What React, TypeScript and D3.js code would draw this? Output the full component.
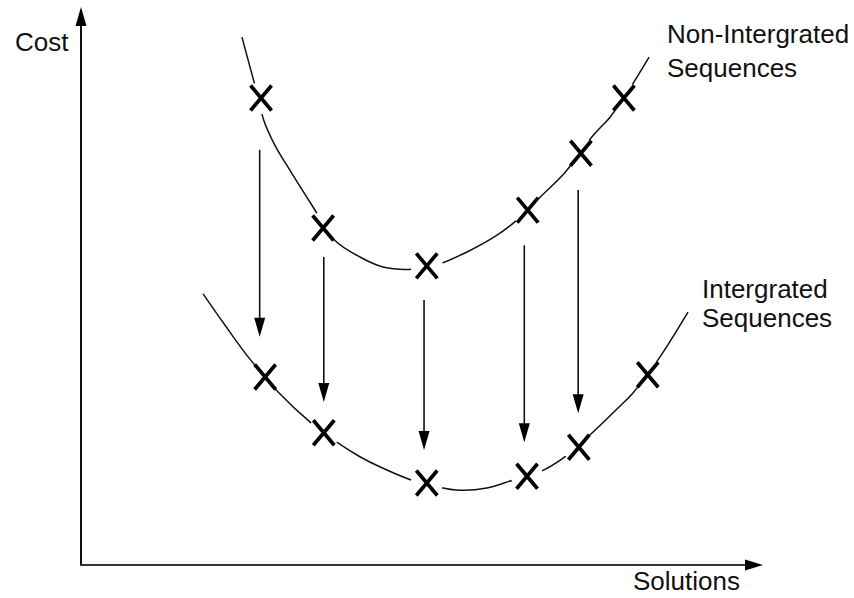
import React from "react";
import * as d3 from "d3";

// ---- data (x: solutions 0-100, y: cost 0-100) ----
const upperCurveX = [23.6, 25.1, 26.1, 26.8, 28.4, 30.6, 34.0, 37.2, 40.9, 44.3, 48.5, 52.2, 56.6, 61.0, 63.9, 67.3, 71.0, 74.9, 77.6, 79.6, 83.3];
const upperCurveY = [94.6, 87.8, 83.3, 79.7, 75.3, 70.8, 64.2, 58.2, 55.2, 53.4, 53.0, 53.8, 56.1, 59.1, 61.8, 65.9, 70.4, 76.7, 80.3, 83.7, 91.0];

const lowerCurveX = [17.9, 21.1, 24.5, 27.0, 28.9, 33.6, 37.5, 40.9, 43.8, 48.5, 52.2, 55.6, 59.5, 63.3, 67.3, 71.3, 75.4, 78.7, 80.9, 84.9, 89.0];
const lowerCurveY = [48.6, 43.0, 37.3, 33.7, 31.0, 25.6, 22.0, 19.4, 17.6, 15.2, 14.0, 13.4, 13.8, 15.2, 16.7, 19.7, 24.2, 28.1, 30.8, 37.3, 45.3];

const upperMarkX = [26.4, 35.5, 50.7, 65.5, 73.3, 79.6];
const upperMarkY = [83.7, 60.4, 53.6, 63.6, 73.8, 83.7];

const lowerMarkX = [27.0, 35.6, 50.7, 65.4, 73.0, 83.1];
const lowerMarkY = [33.7, 23.7, 14.7, 15.9, 21.1, 34.1];

const arrowX = [26.2, 35.6, 50.3, 65.0, 72.9];
const arrowFrom = [74.4, 55.2, 47.5, 57.3, 67.2];
const arrowTo = [40.9, 29.2, 20.6, 22.0, 27.2];

const yAxisLabel = "Cost";
const xAxisLabel = "Solutions";
const upperLabel = ["Non-Intergrated", "Sequences"];
const lowerLabel = ["Intergrated", "Sequences"];

const W = 854;
const H = 598;
const FONT = "'Liberation Sans', Arial, Helvetica, sans-serif";

export default function App() {
  const x = d3.scaleLinear().domain([0, 100]).range([81, 763]);
  const y = d3.scaleLinear().domain([0, 100]).range([565, 7]);

  const line = d3
    .line<[number, number]>()
    .x((d) => x(d[0]))
    .y((d) => y(d[1]))
    .curve(d3.curveCatmullRom.alpha(0.5));

  const upper: [number, number][] = upperCurveX.map((v, i) => [v, upperCurveY[i]]);
  const lower: [number, number][] = lowerCurveX.map((v, i) => [v, lowerCurveY[i]]);
  const marks: [number, number][] = [
    ...upperMarkX.map((v, i) => [v, upperMarkY[i]] as [number, number]),
    ...lowerMarkX.map((v, i) => [v, lowerMarkY[i]] as [number, number]),
  ];

  const x0 = x(0);
  const y0 = y(0);
  const xEnd = x(100);
  const yTop = y(100);

  const headL = 19;
  const headW = 5.5;

  return (
    <svg
      width={W}
      height={H}
      style={{ position: "absolute", left: 0, top: 0, background: "#fff" }}
      fontFamily={FONT}
    >
      <rect x={0} y={0} width={W} height={H} fill="#fff" />
      {/* axes */}
      <line x1={x0} y1={y0} x2={x0} y2={yTop + 14} stroke="#111" strokeWidth={2} />
      <path d={`M${x0},${yTop} L${x0 - 5.5},${yTop + 19} L${x0 + 5.5},${yTop + 19} Z`} fill="#000" />
      <line x1={x0 - 1} y1={y0} x2={xEnd - 14} y2={y0} stroke="#333" strokeWidth={2.2} />
      <path d={`M${xEnd},${y0} L${xEnd - 18},${y0 - 5.5} L${xEnd - 18},${y0 + 5.5} Z`} fill="#000" />

      {/* curves */}
      <path d={line(upper) || ""} fill="none" stroke="#111" strokeWidth={1.5} />
      <path d={line(lower) || ""} fill="none" stroke="#111" strokeWidth={1.5} />

      {/* halos around markers */}
      {marks.map((m, i) => (
        <circle key={"h" + i} cx={x(m[0])} cy={y(m[1])} r={16} fill="#fff" />
      ))}

      {/* arrows */}
      {arrowX.map((ax, i) => {
        const px = x(ax);
        const ys = y(arrowFrom[i]);
        const ye = y(arrowTo[i]);
        return (
          <g key={"a" + i}>
            <line x1={px} y1={ys} x2={px} y2={ye - headL + 2} stroke="#111" strokeWidth={1.6} />
            <path
              d={`M${px},${ye} L${px - headW},${ye - headL} L${px + headW},${ye - headL} Z`}
              fill="#000"
            />
          </g>
        );
      })}

      {/* markers */}
      {marks.map((m, i) => {
        const cx = x(m[0]);
        const cy = y(m[1]);
        return (
          <path
            key={"m" + i}
            d={`M${cx - 10.5},${cy - 12.5} L${cx + 10.5},${cy + 12.5} M${cx + 10.5},${cy - 12.5} L${cx - 10.5},${cy + 12.5}`}
            stroke="#000"
            strokeWidth={3.7}
            fill="none"
          />
        );
      })}

      {/* labels */}
      <g fontSize={26} fill="#111">
        <text x={15} y={51}>{yAxisLabel}</text>
        <text x={633} y={590}>{xAxisLabel}</text>
        <text x={667} y={43}>{upperLabel[0]}</text>
        <text x={667} y={77}>{upperLabel[1]}</text>
        <text x={702} y={298}>{lowerLabel[0]}</text>
        <text x={702} y={327}>{lowerLabel[1]}</text>
      </g>
    </svg>
  );
}
